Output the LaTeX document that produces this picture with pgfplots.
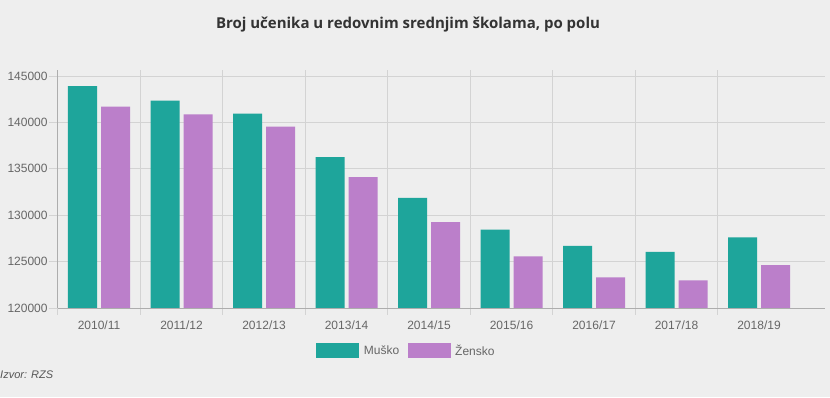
\documentclass[border=0pt]{standalone}
\usepackage{pgfplots}
\pgfplotsset{compat=1.18}
\usepackage{fontspec}
\setmainfont{Liberation Sans}
\newfontfamily\titlefont{Open Sans}
\definecolor{bg}{HTML}{EEEEEE}
\definecolor{muski}{HTML}{1EA59B}
\definecolor{zenski}{HTML}{BB7FCA}
\definecolor{gridc}{HTML}{D3D3D3}
\definecolor{axisc}{HTML}{ADADAD}
\definecolor{ticklab}{HTML}{666666}
\definecolor{titlec}{HTML}{333333}
\definecolor{srcc}{HTML}{555555}
\begin{document}
\begin{tikzpicture}[x=1pt,y=1pt]
\fill[bg] (0,0) rectangle (830,397);
\useasboundingbox (0,0) rectangle (830,397);
\node[font=\titlefont\bfseries\fontsize{15}{18}\selectfont, text=titlec, anchor=base, inner sep=0pt] at (408,368) {Broj učenika u redovnim srednjim školama, po polu};
\node[font=\itshape\fontsize{11}{13}\selectfont, text=srcc, anchor=base west, inner sep=0pt] at (0,19) {Izvor: RZS};
\begin{axis}[
  at={(70,96)}, anchor=south west,
  scale only axis, width=767pt, height=238pt,
  ybar, bar width=29pt,
  xmin=-0.5, xmax=8.797, ymin=120000, ymax=145650,
  enlargelimits=false,
  xtick={0,...,8},
  xticklabels={2010/11,2011/12,2012/13,2013/14,2014/15,2015/16,2016/17,2017/18,2018/19},
  minor xtick={-0.5,0.5,...,7.5},
  ytick={120000,125000,130000,135000,140000,145000},
  yticklabels={120000,125000,130000,135000,140000,145000},
  scaled y ticks=false,
  axis lines*=left,
  axis line style={axisc, line width=0.8pt},
  ymajorgrids, xminorgrids,
  grid style={gridc, line width=0.7pt},
  minor grid style={gridc, line width=0.7pt},
  tick align=outside,
  major tick length=9pt, minor tick length=7pt,
  major x tick style={draw=none},
  minor x tick style={gridc, line width=0.7pt},
  ytick style={gridc, line width=0.7pt},
  tick label style={font=\fontsize{12}{14}\selectfont, text=ticklab},
  yticklabel style={inner sep=0pt, xshift=-1pt},
  xticklabel style={inner sep=0pt, yshift=-4pt},
  legend image code/.code={\fill[#1] (0pt,-7.5pt) rectangle (43pt,7.5pt);},
  legend columns=-1,
  legend style={at={(0.4563,-0.1807)}, anchor=center, draw=none, fill=none,
    font=\fontsize{12}{14}\selectfont, text=ticklab,
    /tikz/every even column/.append style={column sep=4pt},
    nodes={inner xsep=4.5pt}},
]
\addplot[fill=muski, draw=none, bar shift=-16.5pt] coordinates {(0,143900) (1,142350) (2,140950) (3,136250) (4,131850) (5,128450) (6,126700) (7,126050) (8,127600)};
\addplot[fill=zenski, draw=none, bar shift=16.5pt] coordinates {(0,141700) (1,140850) (2,139550) (3,134100) (4,129250) (5,125550) (6,123300) (7,122980) (8,124600)};
\legend{Muško, Žensko}
\end{axis}
\end{tikzpicture}
\end{document}
